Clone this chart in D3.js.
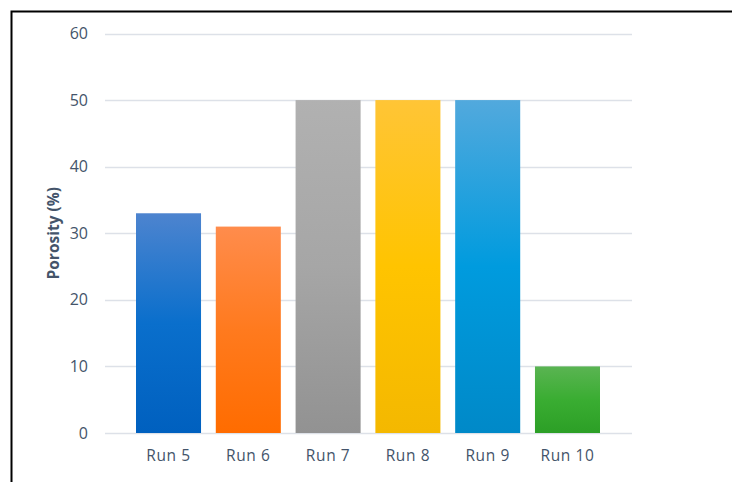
<!DOCTYPE html>
<html>
<head>
<meta charset="utf-8">
<script src="https://cdn.jsdelivr.net/npm/d3@7"></script>
<style>
  html, body { margin: 0; padding: 0; background: #fff; }
  svg { display: block; }
  text { font-family: "Open Sans", "Noto Sans", sans-serif; fill: #44546a; }
</style>
</head>
<body>
<svg id="chart" width="732" height="482"></svg>
<script>
// Porosity per run
const categories = ["Run 5", "Run 6", "Run 7", "Run 8", "Run 9", "Run 10"];
const porosity = [33, 31, 50, 50, 50, 10];
const yTicks = [0, 10, 20, 30, 40, 50, 60];
// gradient stops per bar: top, middle, bottom
const barTop = ["#4d84cf", "#ff8c4c", "#b1b1b1", "#ffc536", "#52a9dd", "#5ab452"];
const barMid = ["#0a6fcc", "#ff7a1e", "#a6a6a6", "#ffc400", "#009bde", "#3aad32"];
const barBottom = ["#0060bf", "#ff6c00", "#929292", "#f4b800", "#0089c8", "#2c9f26"];

const svg = d3.select("#chart");

const x = d3.scaleBand().domain(categories).range([136, 600]).paddingInner(0.185).paddingOuter(0);
const y = d3.scaleLinear().domain([0, 60]).range([433, 33.5]);

// gradients
const defs = svg.append("defs");
categories.forEach((c, i) => {
  const g = defs.append("linearGradient")
    .attr("id", "grad" + i).attr("x1", 0).attr("y1", 0).attr("x2", 0).attr("y2", 1);
  g.append("stop").attr("offset", "0%").attr("stop-color", barTop[i]);
  g.append("stop").attr("offset", "50%").attr("stop-color", barMid[i]);
  g.append("stop").attr("offset", "100%").attr("stop-color", barBottom[i]);
});

// frame
svg.append("path")
  .attr("d", "M11.5,482 L11.5,11.5 L732,11.5")
  .attr("fill", "none").attr("stroke", "#000").attr("stroke-width", 2);

// gridlines
svg.append("g").selectAll("line").data(yTicks).join("line")
  .attr("x1", 105).attr("x2", 632)
  .attr("y1", d => Math.round(y(d)) + 0.5).attr("y2", d => Math.round(y(d)) + 0.5)
  .attr("stroke", "#dde1e8").attr("stroke-width", 1.5);

// y tick labels
svg.append("g").selectAll("text").data(yTicks).join("text")
  .attr("x", 88).attr("y", d => y(d)).attr("dy", "0.35em")
  .attr("text-anchor", "end").attr("font-size", 16)
  .text(d => d);

// bars
svg.append("g").selectAll("rect").data(porosity).join("rect")
  .attr("x", (d, i) => x(categories[i]))
  .attr("width", x.bandwidth())
  .attr("y", d => y(d))
  .attr("height", d => y(0) - y(d))
  .attr("fill", (d, i) => `url(#grad${i})`);

// x labels
svg.append("g").selectAll("text").data(categories).join("text")
  .attr("x", d => x(d) + x.bandwidth() / 2).attr("y", 456).attr("dy", "0.35em")
  .attr("text-anchor", "middle").attr("font-size", 15.5).attr("letter-spacing", 0.6)
  .text(d => d);

// y axis title
svg.append("text")
  .attr("transform", `translate(54,${y(30)}) rotate(-90)`)
  .attr("text-anchor", "middle").attr("dy", "0.35em")
  .attr("font-size", 15.5).attr("font-weight", "bold")
  .text("Porosity (%)");
</script>
</body>
</html>
